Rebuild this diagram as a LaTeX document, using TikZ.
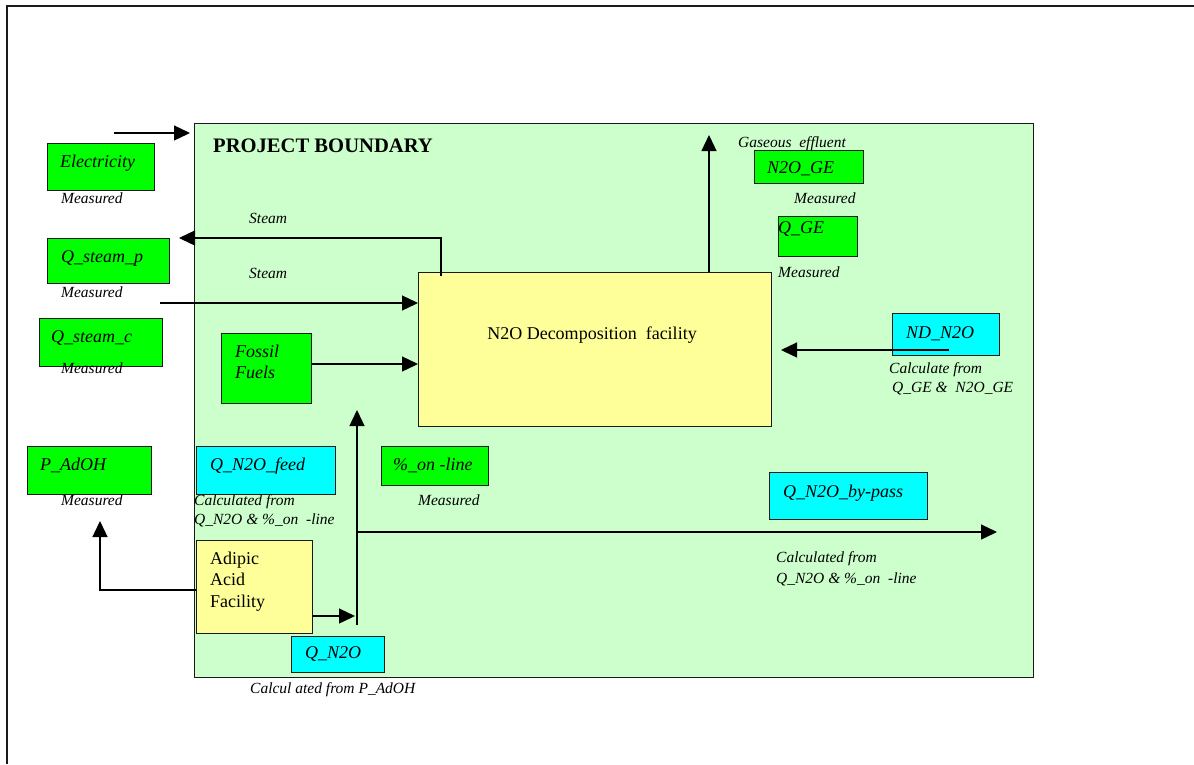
\documentclass[tikz,border=0pt]{standalone}
\usepackage{fontspec}
\setmainfont{Liberation Serif}
\usetikzlibrary{arrows.meta}
\definecolor{bndfill}{HTML}{CCFFCC}
\definecolor{gfill}{HTML}{00FF00}
\definecolor{cfill}{HTML}{00FFFF}
\definecolor{yfill}{HTML}{FFFF99}
\definecolor{edge}{HTML}{1A1A1A}
\begin{document}
\begin{tikzpicture}[x=1pt,y=-1pt,
  box/.style={draw=edge, line width=1.3pt, inner sep=0pt, anchor=north west},
  gbox/.style={box, fill=gfill},
  cbox/.style={box, fill=cfill},
  ybox/.style={box, fill=yfill},
  lbl/.style={inner sep=0pt, anchor=base west, font=\fontsize{18}{21}\selectfont\itshape},
  sml/.style={inner sep=0pt, anchor=base west, font=\fontsize{15.5}{18}\selectfont\itshape},
  rlbl/.style={inner sep=0pt, anchor=base west, font=\fontsize{18}{21}\selectfont},
  arr/.style={line width=1.3pt, draw=black, -{Triangle[length=16pt,width=15pt]}},
  ln/.style={line width=1.3pt, draw=black}]
\useasboundingbox (0,0) rectangle (1194,764);
% outer frame
\draw[line width=1.6pt, draw=edge] (7,764) -- (7,6) -- (1194,6);
% project boundary
\node[box, fill=bndfill, minimum width=839pt, minimum height=554pt] (boundary) at (194,123) {};
\node[inner sep=0pt, anchor=base west, font=\fontsize{20.6}{24}\selectfont\bfseries] (pbtitle) at (213,152) {PROJECT BOUNDARY};

% boxes
\node[gbox, minimum width=107pt, minimum height=47pt] (elec) at (47,143) {};
\node[gbox, minimum width=122pt, minimum height=45pt] (qsp) at (47,238) {};
\node[gbox, minimum width=123pt, minimum height=48pt] (qsc) at (39,318) {};
\node[gbox, minimum width=90pt, minimum height=70pt] (fossil) at (221,333) {};
\node[gbox, minimum width=124pt, minimum height=48pt] (padoh) at (27,446) {};
\node[gbox, minimum width=107pt, minimum height=39pt] (online) at (381,446) {};
\node[gbox, minimum width=109pt, minimum height=33pt] (n2oge) at (754,150) {};
\node[gbox, minimum width=79pt, minimum height=40pt] (qge) at (778,216) {};
\node[cbox, minimum width=107pt, minimum height=42pt] (ndn2o) at (892,313) {};
\node[cbox, minimum width=139pt, minimum height=48pt] (feed) at (196,446) {};
\node[cbox, minimum width=158pt, minimum height=47pt] (bypass) at (769,472) {};
\node[cbox, minimum width=93pt, minimum height=36pt] (qn2o) at (291,636) {};
\node[ybox, minimum width=353pt, minimum height=154pt] (dec) at (418,272) {};
\node[ybox, minimum width=116pt, minimum height=93pt] (adipic) at (196,540) {};

% texts
\node[lbl] (t-elec) at (60,167) {Electricity};
\node[sml] (m-elec) at (61,203) {Measured};
\node[sml] (steam1) at (249,223) {Steam};
\node[lbl] (t-qsp) at (61,262) {Q\_steam\_p};
\node[sml] (m-qsp) at (61,297) {Measured};
\node[sml] (steam2) at (249,278) {Steam};
\node[lbl] (t-qsc) at (51,342) {Q\_steam\_c};
\node[sml] (m-qsc) at (61,373) {Measured};
\node[lbl] (t-fos1) at (235,357) {Fossil};
\node[lbl] (t-fos2) at (235,378) {Fuels};
\node[inner sep=0pt, anchor=base, font=\fontsize{18}{21}\selectfont] (t-dec) at (592,339) {N2O Decomposition\ \ facility};
\node[sml] (gas) at (738,147) {Gaseous\ \ effluent};
\node[lbl] (t-n2oge) at (767,173) {N2O\_GE};
\node[sml] (m-n2oge) at (794,203) {Measured};
\node[lbl] (t-qge) at (778,233) {Q\_GE};
\node[sml] (m-qge) at (778,277) {Measured};
\node[lbl] (t-nd) at (906,338) {ND\_N2O};
\node[sml] (c-nd1) at (889,373) {Calculate from};
\node[sml] (c-nd2) at (892,392) {Q\_GE \&\ \ N2O\_GE};
\node[lbl] (t-padoh) at (40,470) {P\_AdOH};
\node[sml] (m-padoh) at (61,505) {Measured};
\node[lbl] (t-feed) at (210,470) {Q\_N2O\_feed};
\node[sml] (c-feed1) at (194,505) {Calculated from};
\node[sml] (c-feed2) at (194,524) {Q\_N2O \& \%\_on\ \ -line};
\node[lbl] (t-online) at (393,470) {\%\_on -line};
\node[sml] (m-online) at (418,505) {Measured};
\node[lbl] (t-bypass) at (783,497) {Q\_N2O\_by-pass};
\node[sml] (c-by1) at (776,562) {Calculated from};
\node[sml] (c-by2) at (776,583) {Q\_N2O \& \%\_on\ \ -line};
\node[rlbl] (t-ad1) at (210,564) {Adipic};
\node[rlbl] (t-ad2) at (210,585) {Acid};
\node[rlbl] (t-ad3) at (210,607) {Facility};
\node[lbl] (t-qn2o) at (305,658) {Q\_N2O};
\node[sml] (c-qn2o) at (250,693) {Calcul ated from P\_AdOH};

% connector coordinates
\coordinate (elecS) at (114,133);
\coordinate (elecE) at (190,133);
\coordinate (steamoutE) at (179,238);
\coordinate (steaminS) at (160,303);
\coordinate (gasE) at (709,135);
\coordinate (ndS) at (949,350);
\coordinate (ndE) at (781,350);
\coordinate (padohE) at (100,521);
\coordinate (smallE) at (355,616);
\coordinate (vertS) at (357,625);
\coordinate (vertE) at (357,410);
\coordinate (byS) at (357,532);
\coordinate (byE) at (997,532);

% connectors
\draw[arr] (elecS) -- (elecE);
\draw[arr] ([xshift=23pt,yshift=-4pt]dec.north west) |- (steamoutE);
\draw[arr] (steaminS) -- (steaminS -| dec.west);
\draw[arr] (fossil.east |- 0,364) -- (dec.west |- 0,364);
\draw[arr] (dec.north -| gasE) -- (gasE);
\draw[arr] (ndS) -- (ndE);
\draw[arr] (adipic.west |- 0,590) -| (padohE);
\draw[arr] (adipic.east |- smallE) -- (smallE);
\draw[arr] (vertS) -- (vertE);
\draw[arr] (byS) -- (byE);
\end{tikzpicture}
\end{document}
